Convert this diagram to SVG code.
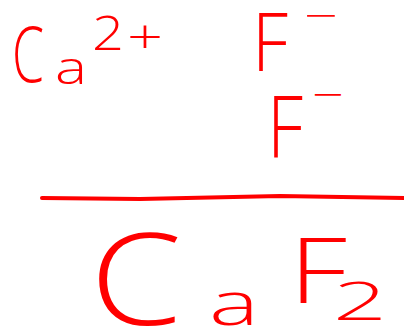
<svg xmlns="http://www.w3.org/2000/svg" width="404" height="329" viewBox="0 0 404 329">
<style>
.hw{fill:#ff0000;font-family:"Open Sans","Liberation Sans",sans-serif;font-weight:300}
.stroke{fill:none;stroke:#ff0000;stroke-width:4;stroke-linecap:round;stroke-linejoin:round}
</style>
<rect width="404" height="329" fill="#ffffff"/>
<g id="calcium-ion">
<text class="hw"><tspan x="12" y="82" font-size="78" textLength="32" lengthAdjust="spacingAndGlyphs">C</tspan><tspan x="55" y="84" font-size="46" textLength="32" lengthAdjust="spacingAndGlyphs">a</tspan><tspan x="92" y="50" font-size="47" textLength="32" lengthAdjust="spacingAndGlyphs">2</tspan><tspan x="127" y="54" font-size="47" textLength="36" lengthAdjust="spacingAndGlyphs">+</tspan></text>
</g>
<g id="fluoride-ion-1">
<text class="hw"><tspan x="252" y="71" font-size="82" textLength="36" lengthAdjust="spacingAndGlyphs">F</tspan><tspan x="304" y="30" font-size="40" textLength="34" lengthAdjust="spacingAndGlyphs">−</tspan></text>
</g>
<g id="fluoride-ion-2">
<text class="hw"><tspan x="267" y="158" font-size="86" textLength="36" lengthAdjust="spacingAndGlyphs">F</tspan><tspan x="312" y="109" font-size="40" textLength="32" lengthAdjust="spacingAndGlyphs">−</tspan></text>
</g>
<g id="divider">
<path class="stroke" d="M42 198 L140 199 L280 196 L404 198"/>
</g>
<g id="calcium-fluoride">
<text class="hw"><tspan x="90" y="325" font-size="127" textLength="92" lengthAdjust="spacingAndGlyphs">C</tspan><tspan x="209" y="325" font-size="60" textLength="50" lengthAdjust="spacingAndGlyphs">a</tspan><tspan x="289" y="303" font-size="90" textLength="58" lengthAdjust="spacingAndGlyphs">F</tspan><tspan x="333" y="320" font-size="54" textLength="54" lengthAdjust="spacingAndGlyphs">2</tspan></text>
</g>
</svg>
